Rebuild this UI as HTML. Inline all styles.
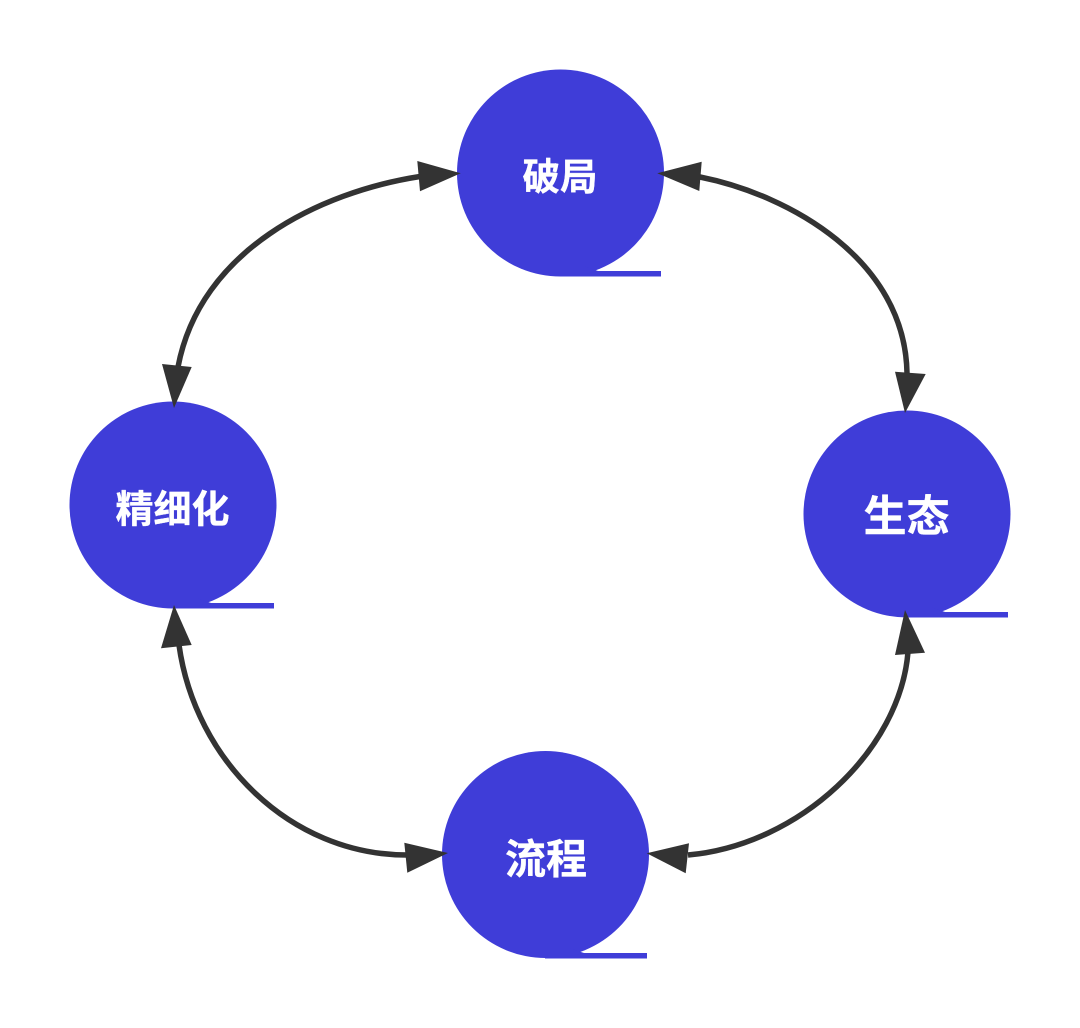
<!DOCTYPE html>
<html>
<head>
<meta charset="utf-8">
<style>
html,body{margin:0;padding:0;background:#fff;width:1080px;height:1028px;overflow:hidden}
svg{display:block}
text{font-family:"Liberation Sans","Noto Sans CJK SC",sans-serif;font-weight:700;fill:#fff;stroke:#fff;stroke-width:.35px;stroke-linejoin:round;text-anchor:middle}
</style>
</head>
<body>
<svg width="1080" height="1028" viewBox="0 0 1080 1028" xmlns="http://www.w3.org/2000/svg">
<rect width="1080" height="1028" fill="#fff"/>
<g fill="#3f3dd8">
<circle cx="560.5" cy="173" r="103.5"/><rect x="560" y="271" width="101" height="5.5"/>
<polygon points="585,266.5 598,271 585,274"/>
<circle cx="173" cy="505" r="103.5"/><rect x="173" y="603" width="101" height="5.5"/>
<polygon points="198,598.5 211,603 198,606"/>
<circle cx="907" cy="514" r="103.5"/><rect x="907" y="612" width="101" height="5.5"/>
<polygon points="932,607.5 945,612 932,615"/>
<circle cx="545.5" cy="854.5" r="103.5"/><rect x="545" y="953" width="102" height="5.5"/>
<polygon points="570,948.5 584,953 570,956"/>
</g>
<g fill="none" stroke="#333" stroke-width="5.5">
<path d="M420 176.5C320 192 200 250 178 367"/>
<path d="M700 177C790 195 905 260 907 373"/>
<path d="M179 645C195 760 290 855 407 855"/>
<path d="M908 652C900 750 800 845 688 855"/>
</g>
<g fill="#333">
<polygon points="460.7,173.3 417.3,161 420,191.3"/>
<polygon points="174,408 162,364 191.7,367"/>
<polygon points="657.3,173.3 701.7,161.7 699.3,191"/>
<polygon points="905,413 895,371.7 925.7,374"/>
<polygon points="174,605 161,648.3 191.7,645"/>
<polygon points="448,853 404.3,842.7 407.3,872.7"/>
<polygon points="905,610 895,655 925,652.7"/>
<polygon points="646.7,853.3 689,843.3 685.7,873.3"/>
</g>
<text x="560" y="190" font-size="37.5">破局</text>
<text x="172.5" y="522.5" font-size="38">精细化</text>
<text x="906.5" y="531.5" font-size="43">生态</text>
<text x="546" y="873.5" font-size="41">流程</text>
</svg>
</body>
</html>
